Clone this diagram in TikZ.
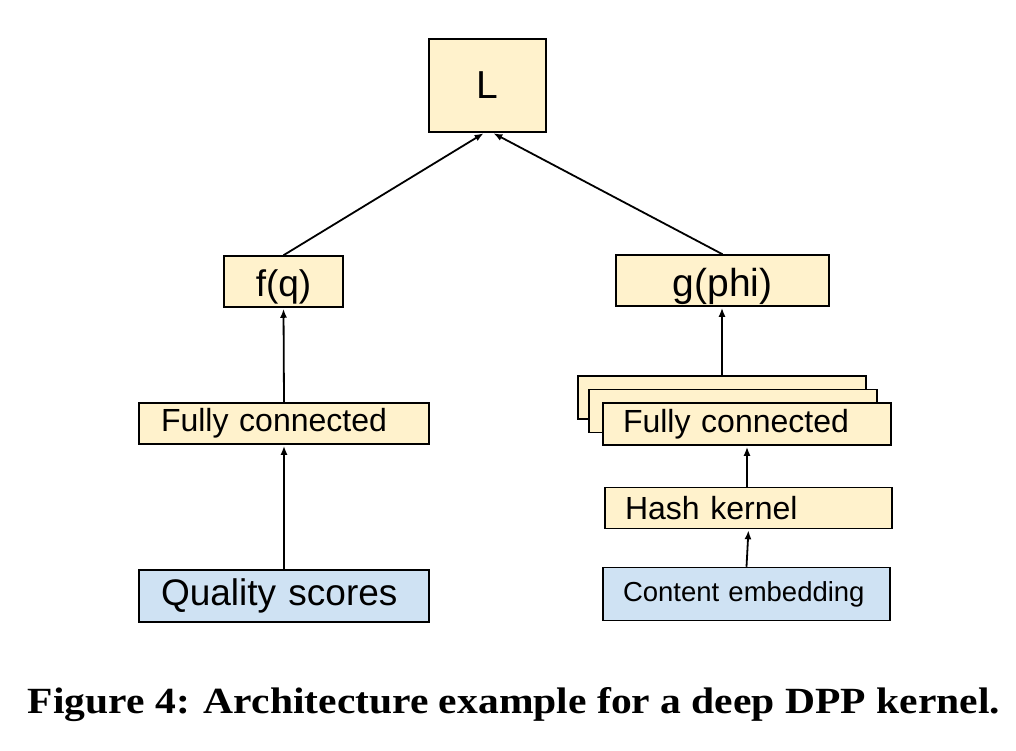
\documentclass[tikz,border=0pt]{standalone}
\usepackage{fontspec}
\setmainfont{Liberation Sans}
\newfontfamily\capfont{Liberation Serif}
\usetikzlibrary{arrows.meta}
\definecolor{cream}{HTML}{FFF2CC}
\definecolor{lblue}{HTML}{CFE2F3}
\newcommand{\fs}[1]{\fontsize{#1}{#1}\selectfont}
\newcommand{\dn}[1]{\raisebox{-3pt}{#1}}
\tikzset{
  blk/.style={draw=black, line width=1.5pt, fill=cream, inner sep=0pt},
  inbox/.style={draw=black, line width=1.5pt, fill=lblue, inner sep=0pt},
  conn/.style={line width=1.8pt, shorten >=1pt, -{Latex[length=9pt,width=7pt]}},
}
\begin{document}
\begin{tikzpicture}[x=1pt,y=-1pt]
\useasboundingbox (0,0) rectangle (1016,750);
% boxes
\node[blk, minimum width=117pt, minimum height=93pt, font=\fs{39}] (L) at (487.5,85.5) {L};
\node[blk, minimum width=119pt, minimum height=51pt, font=\fs{37}, text depth=0pt] (fq) at (283.5,281.5) {\dn{f(q)}};
\node[blk, minimum width=213pt, minimum height=51pt, font=\fs{39}, text depth=0pt] (gphi) at (722.5,280.5) {\dn{g(phi)}};
\node[blk, minimum width=290pt, minimum height=41pt, font=\fs{32}, text width=246pt, align=left, inner xsep=22pt] (fcL) at (284,423.5) {\dn{Fully connected}};
\node[inbox, minimum width=290pt, minimum height=52pt, font=\fs{37}, text width=246pt, align=left, inner xsep=22pt] (qs) at (284,596) {\dn{Quality scores}};
\node[blk, minimum width=288pt, minimum height=43pt] (fcB) at (722,397.5) {};
\node[blk, minimum width=288pt, minimum height=43pt] (fcM) at (733,411) {};
\node[blk, minimum width=288pt, minimum height=42pt, font=\fs{32}, text width=248pt, align=left, inner xsep=20pt] (fcF) at (747,424) {\dn{Fully connected}};
\node[blk, minimum width=287pt, minimum height=41pt, font=\fs{32}, text width=247pt, align=left, inner xsep=20pt] (hash) at (748.5,508) {\raisebox{-1pt}{Hash kernel}};
\node[inbox, minimum width=287pt, minimum height=53pt, font=\fs{27.5}, text width=247pt, align=left, inner xsep=20pt] (ce) at (746.5,594) {\raisebox{-2pt}{Content embedding}};
% connectors
\draw[conn] (qs.north) -- (fcL.south);
\draw[conn] (fcL.north) -- (fq.south);
\draw[conn] (fq.north) -- ([xshift=-3pt]L.south);
\draw[conn] (gphi.north) -- ([xshift=5pt]L.south);
\draw[conn] (fcB.north) -- (fcB.north |- gphi.south);
\draw[conn] (hash.north -| fcF.south) -- (fcF.south);
\draw[conn] (ce.north) -- (hash.south);
% caption
\node[anchor=base, inner sep=0pt] (cap) at (514,713) {\resizebox{972pt}{26pt}{\capfont\bfseries Figure 4: Architecture example for a deep DPP kernel.}};
\end{tikzpicture}
\end{document}
